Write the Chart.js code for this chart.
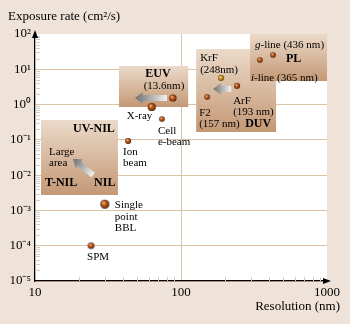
<!DOCTYPE html>
<html>
<head>
<meta charset="utf-8">
<script src="https://cdn.jsdelivr.net/npm/chart.js@4/dist/chart.umd.min.js"></script>
<style>
html, body { margin: 0; padding: 0; background: #EFE3D9; }
#wrap { width: 350px; height: 324px; }
</style>
</head>
<body>
<div id="wrap"><canvas id="chart"></canvas></div>
<script>
// data
var techniques = ["SPM", "Single point BBL", "Ion beam", "X-ray", "Cell e-beam", "EUV", "F2", "KrF", "ArF", "i-line", "g-line"];
var resolution = [24.2, 30.1, 43.4, 63, 74, 88, 151, 188, 242, 347, 427];
var exposureRate = [1e-4, 1.5e-3, 0.093, 0.85, 0.39, 1.53, 1.64, 5.7, 3.4, 18.3, 25.4];
var xTickValues = [10, 100, 1000];
var yTickValues = [1e-5, 1e-4, 1e-3, 1e-2, 1e-1, 1, 10, 100];

// regions (data units): [xmin, xmax, ymin, ymax]
var boxEUV = [37.6, 112, 0.853, 12.4];
var boxNIL = [11, 37, 0.00274, 0.366];
var boxDUV = [127, 448, 0.167, 37.6];
var boxPL = [297, 1000, 4.65, 100];

// styles
var SERIF = "'Liberation Serif', 'Times New Roman', serif";
var ballSize = [3.3, 4.5, 3, 4, 2.8, 3.6, 2.8, 2.9, 3, 2.8, 2.8];
var ballKind = ["b", "b", "b", "b", "b", "b", "b", "y", "b", "b", "b"];

function ball(r, kind) {
    var s = Math.ceil(r * 2) + 2;
    var c = document.createElement("canvas");
    c.width = s; c.height = s;
    var g = c.getContext("2d");
    var cx = s / 2, cy = s / 2;
    var grad = g.createRadialGradient(cx - r * 0.35, cy - r * 0.4, 0, cx, cy, r);
    if (kind == "y") {
        grad.addColorStop(0, "#FFF2B0");
        grad.addColorStop(0.35, "#E8B530");
        grad.addColorStop(0.8, "#9A6A10");
        grad.addColorStop(1, "#4A3005");
    } else {
        grad.addColorStop(0, "#FBD8A8");
        grad.addColorStop(0.35, "#D0702A");
        grad.addColorStop(0.8, "#86340C");
        grad.addColorStop(1, "#3A1403");
    }
    g.fillStyle = grad;
    g.beginPath();
    g.arc(cx, cy, r, 0, Math.PI * 2);
    g.fill();
    return c;
}

var pointImages = ballSize.map(function (r, i) { return ball(r, ballKind[i]); });

var sup = { "-": "\u207B", "0": "\u2070", "1": "\u00B9", "2": "\u00B2", "3": "\u00B3", "4": "\u2074", "5": "\u2075" };
function powerLabel(v) {
    var e = String(Math.round(Math.log10(v)));
    return "10" + e.split("").map(function (ch) { return sup[ch]; }).join("");
}

// label text offsets (px) from their point
var pointLabels = [
    { i: 0, dx: -4, dy: 11, lines: ["SPM"] },
    { i: 1, dx: 10, dy: 1, lines: ["Single", "point", "BBL"] },
    { i: 2, dx: -5, dy: 11, lines: ["Ion", "beam"] },
    { i: 3, dx: -25, dy: 9, lines: ["X-ray"] },
    { i: 4, dx: -4, dy: 12, lines: ["Cell", "e-beam"] }
];

function box(chart, b) {
    var x = chart.scales.x, y = chart.scales.y;
    var l = x.getPixelForValue(b[0]), r = x.getPixelForValue(b[1]);
    var t = y.getPixelForValue(b[3]), bt = y.getPixelForValue(b[2]);
    return { l: l, r: r, t: t, b: bt };
}

function drawBox(ctx, p) {
    var g = ctx.createLinearGradient(0, p.t, 0, p.b);
    g.addColorStop(0, "#EBDACA");
    g.addColorStop(1, "#C49875");
    ctx.fillStyle = g;
    ctx.fillRect(p.l, p.t, p.r - p.l, p.b - p.t);
}

function arrow(ctx, x1, y1, x2, y2) {
    // tail (x1,y1) -> head (x2,y2)
    var a = Math.atan2(y2 - y1, x2 - x1);
    var len = Math.hypot(x2 - x1, y2 - y1);
    ctx.save();
    ctx.translate(x1, y1);
    ctx.rotate(a);
    var g = ctx.createLinearGradient(0, 0, len, 0);
    g.addColorStop(0, "#F2F2F2");
    g.addColorStop(1, "#6E6E6E");
    ctx.fillStyle = g;
    ctx.beginPath();
    ctx.moveTo(0, -3);
    ctx.lineTo(len - 8, -3);
    ctx.lineTo(len - 8, -6);
    ctx.lineTo(len, 0);
    ctx.lineTo(len - 8, 6);
    ctx.lineTo(len - 8, 3);
    ctx.lineTo(0, 3);
    ctx.closePath();
    ctx.fill();
    ctx.restore();
}

function text(ctx, s, x, y, opt) {
    opt = opt || {};
    ctx.font = (opt.bold ? "bold " : "") + (opt.italic ? "italic " : "") + (opt.size || 11) + "px " + SERIF;
    ctx.fillStyle = "#000";
    ctx.textAlign = opt.align || "left";
    ctx.textBaseline = "middle";
    ctx.fillText(s, x, y);
}

var decor = {
    id: "decor",
    beforeDraw: function (chart) {
        var ctx = chart.ctx, a = chart.chartArea;
        ctx.save();
        ctx.fillStyle = "#EFE3D9";
        ctx.fillRect(0, 0, chart.width, chart.height);
        ctx.fillStyle = "#FFFFFF";
        ctx.fillRect(a.left, a.top, a.right - a.left, a.bottom - a.top);
        ctx.restore();
    },
    beforeDatasetsDraw: function (chart) {
        var ctx = chart.ctx, a = chart.chartArea;
        var xs = chart.scales.x, ys = chart.scales.y;
        ctx.save();
        // minor ticks
        ctx.strokeStyle = "#D2CCC6";
        ctx.lineWidth = 1;
        for (var d = 1e-5; d < 100; d *= 10) {
            for (var m = 2; m < 10; m++) {
                var py = Math.round(ys.getPixelForValue(d * m)) + 0.5;
                ctx.beginPath(); ctx.moveTo(a.left, py); ctx.lineTo(a.left + 5, py); ctx.stroke();
            }
        }
        for (var dx = 10; dx < 1000; dx *= 10) {
            for (var k = 2; k < 10; k++) {
                var px = Math.round(xs.getPixelForValue(dx * k)) + 0.5;
                ctx.beginPath(); ctx.moveTo(px, a.bottom); ctx.lineTo(px, a.bottom - 4); ctx.stroke();
            }
        }
        // regions
        var e = box(chart, boxEUV), n = box(chart, boxNIL), u = box(chart, boxDUV), p = box(chart, boxPL);
        drawBox(ctx, n);
        drawBox(ctx, e);
        drawBox(ctx, u);
        drawBox(ctx, p);
        arrow(ctx, e.l + 48, e.t + 32, e.l + 16, e.t + 32);
        arrow(ctx, u.l + 35, u.t + 40, u.l + 17, u.t + 40);
        arrow(ctx, n.l + 52, n.t + 55, n.l + 32, n.t + 39);

        text(ctx, "EUV", e.l + 39, e.t + 8, { bold: true, size: 12, align: "center" });
        text(ctx, "(13.6nm)", e.l + 45, e.t + 20, { align: "center" });

        text(ctx, "UV-NIL", n.l + 32, n.t + 9, { bold: true, size: 12 });
        text(ctx, "Large", n.l + 8, n.t + 32);
        text(ctx, "area", n.l + 8, n.t + 43);
        text(ctx, "T-NIL", n.l + 4, n.t + 63, { bold: true, size: 12 });
        text(ctx, "NIL", n.l + 53, n.t + 63, { bold: true, size: 12 });

        text(ctx, "KrF", u.l + 4, u.t + 9);
        text(ctx, "(248nm)", u.l + 4, u.t + 21);
        text(ctx, "ArF", u.l + 37, u.t + 52);
        text(ctx, "(193 nm)", u.l + 37, u.t + 63);
        text(ctx, "F2", u.l + 3, u.t + 64);
        text(ctx, "(157 nm)", u.l + 3, u.t + 75);
        text(ctx, "DUV", u.l + 49, u.t + 75, { bold: true, size: 12 });

        ctx.font = "italic 11px " + SERIF;
        var gw = ctx.measureText("g").width, iw = ctx.measureText("i").width;
        text(ctx, "g", p.l + 5, p.t + 11, { italic: true });
        text(ctx, "-line (436 nm)", p.l + 5 + gw, p.t + 11);
        text(ctx, "PL", p.l + 36, p.t + 25, { bold: true, size: 12 });
        text(ctx, "i", p.l + 1, p.t + 44, { italic: true });
        text(ctx, "-line (365 nm)", p.l + 1 + iw, p.t + 44);
        ctx.restore();
    },
    afterDatasetsDraw: function (chart) {
        var ctx = chart.ctx;
        var meta = chart.getDatasetMeta(0);
        ctx.save();
        pointLabels.forEach(function (lb) {
            var pt = meta.data[lb.i];
            lb.lines.forEach(function (s, j) {
                text(ctx, s, pt.x + lb.dx, pt.y + lb.dy + j * 11.5);
            });
        });
        ctx.restore();
    },
    afterDraw: function (chart) {
        var ctx = chart.ctx, a = chart.chartArea;
        ctx.save();
        ctx.fillStyle = "#000";
        // axis arrowheads
        ctx.beginPath();
        ctx.moveTo(a.left, a.top - 4); ctx.lineTo(a.left - 3, a.top + 4); ctx.lineTo(a.left + 3, a.top + 4);
        ctx.closePath(); ctx.fill();
        ctx.beginPath();
        ctx.moveTo(a.right + 4, a.bottom); ctx.lineTo(a.right - 4, a.bottom - 3); ctx.lineTo(a.right - 4, a.bottom + 3);
        ctx.closePath(); ctx.fill();
        text(ctx, "Exposure rate (cm\u00B2/s)", 8, 17, { size: 13 });
        text(ctx, "Resolution (nm)", 340, 307, { size: 13, align: "right" });
        ctx.restore();
    }
};

new Chart(document.getElementById("chart"), {
    type: "scatter",
    data: {
        datasets: [{
            label: "Exposure rate",
            data: resolution.map(function (r, i) { return { x: r, y: exposureRate[i] }; }),
            pointStyle: pointImages,
            pointRadius: ballSize,
            pointHoverRadius: ballSize
        }]
    },
    plugins: [decor],
    options: {
        responsive: true,
        maintainAspectRatio: false,
        animation: false,
        events: [],
        layout: { padding: { top: 34, right: 23, left: 0, bottom: 0 } },
        plugins: { legend: { display: false }, tooltip: { enabled: false } },
        scales: {
            x: {
                type: "logarithmic",
                min: 10, max: 1000,
                afterBuildTicks: function (s) { s.ticks = xTickValues.map(function (v) { return { value: v }; }); },
                afterFit: function (s) { s.height = 43; },
                ticks: {
                    callback: function (v) { return String(v); },
                    font: { family: SERIF, size: 13 },
                    color: "#000",
                    padding: 4,
                    maxRotation: 0,
                    autoSkip: false
                },
                grid: {
                    drawTicks: false,
                    color: function (c) { return c.tick && c.tick.value === 100 ? "#DCC3A3" : "rgba(0,0,0,0)"; }
                },
                border: { color: "#000", width: 1.3 }
            },
            y: {
                type: "logarithmic",
                min: 1e-5, max: 100,
                afterBuildTicks: function (s) { s.ticks = yTickValues.map(function (v) { return { value: v }; }); },
                afterFit: function (s) { s.width = 35; },
                ticks: {
                    callback: function (v) { return powerLabel(v); },
                    font: { family: SERIF, size: 13 },
                    color: "#000",
                    padding: 4,
                    autoSkip: false
                },
                grid: {
                    drawTicks: false,
                    color: function (c) { return c.tick && c.tick.value === 100 ? "rgba(0,0,0,0)" : "#DCC3A3"; }
                },
                border: { color: "#000", width: 1.3 }
            }
        }
    }
});
</script>
</body>
</html>
